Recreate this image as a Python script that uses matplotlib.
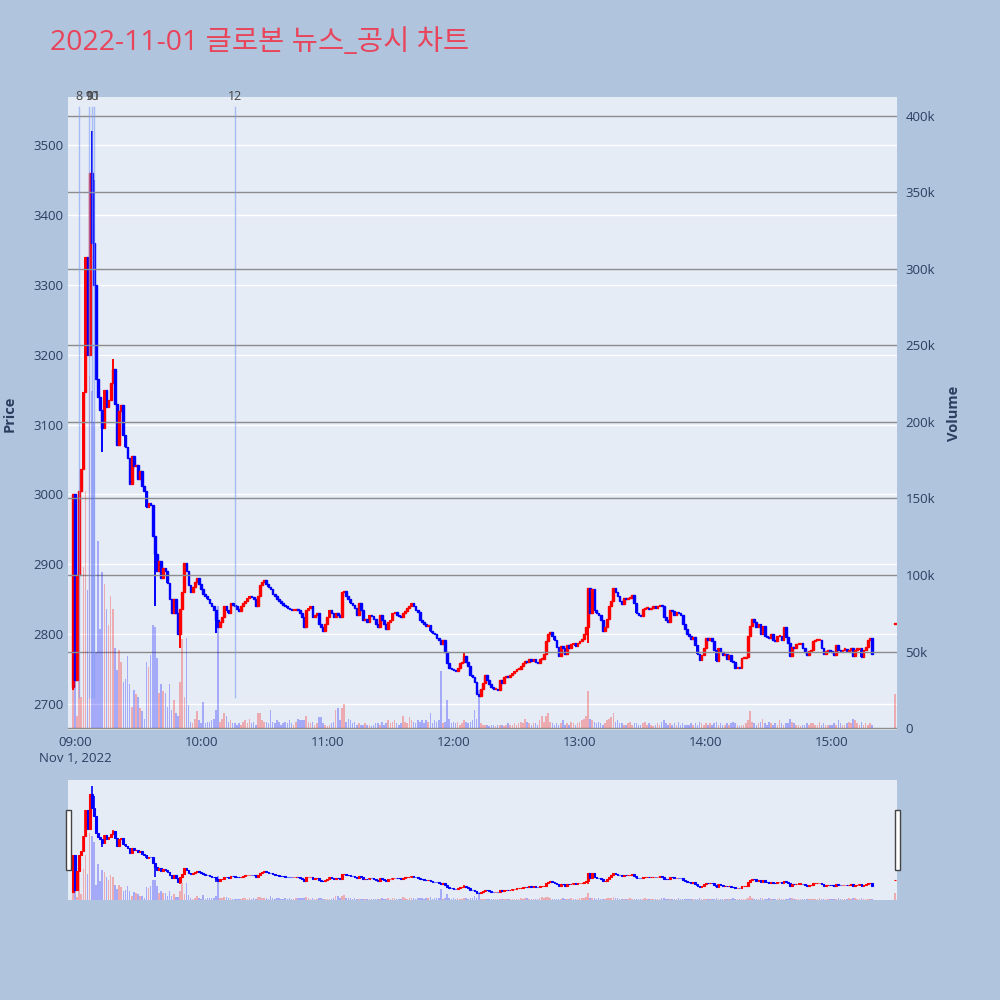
import numpy as np
import pandas as pd
import matplotlib
matplotlib.use('Agg')
import matplotlib.pyplot as plt
import matplotlib.dates as mdates
from matplotlib.patches import Rectangle

# minute closes, 08:59 .. 15:19
closes = [
    3000, 2735, 2885, 3005, 3036, 3147, 3340, 3200, 3460, 3360,
    3300, 3165, 3140, 3121, 3095, 3150, 3125, 3135, 3160, 3180,
    3130, 3070, 3120, 3128, 3085, 3068, 3052, 3015, 3055, 3040,
    3042, 3022, 3033, 3012, 3005, 2982, 2988, 2985, 2940, 2915,
    2890, 2905, 2880, 2895, 2890, 2873, 2850, 2830, 2850, 2830,
    2800, 2836, 2860, 2902, 2890, 2870, 2860, 2868, 2875, 2880,
    2872, 2865, 2858, 2855, 2850, 2845, 2840, 2835, 2820, 2810,
    2818, 2825, 2840, 2835, 2830, 2845, 2842, 2840, 2836, 2833,
    2840, 2845, 2848, 2851, 2855, 2853, 2850, 2840, 2855, 2870,
    2875, 2878, 2872, 2868, 2865, 2858, 2855, 2850, 2847, 2845,
    2842, 2840, 2838, 2836, 2835, 2835, 2835, 2834, 2830, 2825,
    2810, 2835, 2838, 2840, 2825, 2828, 2830, 2815, 2810, 2805,
    2815, 2825, 2835, 2830, 2825, 2830, 2828, 2825, 2860, 2862,
    2855, 2850, 2845, 2842, 2838, 2828, 2845, 2835, 2820, 2822,
    2818, 2828, 2826, 2822, 2815, 2810, 2828, 2820, 2815, 2808,
    2818, 2820, 2830, 2832, 2828, 2826, 2825, 2830, 2833, 2838,
    2840, 2844, 2840, 2835, 2832, 2820, 2818, 2815, 2812, 2813,
    2805, 2802, 2800, 2795, 2792, 2786, 2792, 2775, 2758, 2752,
    2750, 2748, 2747, 2752, 2758, 2760, 2768, 2760, 2755, 2742,
    2738, 2732, 2715, 2712, 2722, 2730, 2742, 2735, 2728, 2725,
    2722, 2722, 2720, 2735, 2730, 2738, 2740, 2738, 2742, 2745,
    2747, 2750, 2750, 2754, 2758, 2762, 2760, 2765, 2762, 2765,
    2760, 2758, 2765, 2765, 2772, 2790, 2800, 2803, 2798, 2792,
    2782, 2768, 2783, 2780, 2772, 2785, 2780, 2786, 2788, 2783,
    2788, 2790, 2793, 2800, 2810, 2866, 2830, 2865, 2835, 2830,
    2828, 2820, 2805, 2810, 2822, 2840, 2848, 2866, 2860, 2855,
    2848, 2843, 2852, 2850, 2851, 2852, 2856, 2845, 2830, 2828,
    2826, 2836, 2838, 2838, 2836, 2838, 2840, 2838, 2840, 2842,
    2840, 2825, 2820, 2818, 2835, 2833, 2828, 2832, 2830, 2828,
    2815, 2808, 2800, 2798, 2793, 2796, 2785, 2772, 2763, 2770,
    2780, 2794, 2792, 2794, 2790, 2778, 2762, 2780, 2775, 2770,
    2772, 2765, 2770, 2762, 2760, 2752, 2752, 2751, 2766, 2766,
    2767, 2798, 2812, 2822, 2818, 2810, 2815, 2800, 2812, 2798,
    2796, 2794, 2800, 2792, 2790, 2797, 2798, 2792, 2810, 2796,
    2788, 2768, 2782, 2780, 2786, 2786, 2787, 2780, 2774, 2770,
    2776, 2778, 2790, 2791, 2791, 2791, 2780, 2772, 2776, 2778,
    2776, 2774, 2770, 2784, 2778, 2776, 2778, 2779, 2776, 2778,
    2780, 2768, 2778, 2779, 2780, 2767, 2778, 2782, 2792, 2794,
    2772,
]
first_open = 2725
wick_high = {9: 3520, 10: 3450, 19: 3194, 186: 2775}
wick_low = {0: 2720, 14: 3060, 39: 2840, 51: 2780, 68: 2801, 245: 2787}

# volume in thousands per minute
volume_k = [
    25, 35, 8, 150, 20, 105, 155, 90, 230, 220,
    200, 50, 122, 65, 102, 94, 78, 67, 86, 78,
    52, 38, 51, 43, 30, 32, 47, 29, 14, 25,
    22, 20, 13, 11, 6, 43, 40, 48, 67, 66,
    46, 23, 29, 24, 23, 14, 29, 12, 18, 10,
    8, 30, 58, 20, 59, 15, 4, 3, 6, 11,
    5, 3, 17, 3, 4, 4, 5, 6, 12, 80,
    4, 6, 10, 8, 4, 5, 3, 3, 2, 3,
    2, 4, 5, 3, 6, 3, 4, 2, 10, 10,
    5, 4, 4, 3, 12, 4, 3, 5, 4, 2,
    3, 4, 3, 5, 3, 2, 4, 6, 5, 5,
    5, 8, 4, 3, 4, 2, 3, 7, 7, 3,
    2, 1, 2, 3, 4, 12, 13, 5, 13, 16,
    4, 6, 5, 3, 4, 2, 3, 2, 2, 3,
    2, 2, 1, 2, 3, 3, 2, 4, 2, 3,
    5, 3, 4, 5, 3, 2, 3, 8, 4, 3,
    7, 5, 4, 3, 5, 4, 5, 3, 5, 4,
    10, 3, 5, 4, 5, 37, 3, 4, 18, 6,
    3, 4, 3, 4, 2, 3, 5, 4, 3, 4,
    5, 12, 6, 25, 3, 2, 2, 2, 1, 2,
    2, 1, 2, 2, 2, 1, 2, 3, 2, 2,
    3, 2, 3, 4, 3, 6, 4, 3, 2, 3,
    3, 2, 5, 8, 4, 8, 10, 4, 3, 2,
    3, 2, 3, 5, 2, 3, 2, 4, 3, 2,
    3, 4, 5, 6, 8, 24, 6, 5, 4, 3,
    4, 3, 2, 3, 5, 6, 7, 10, 4, 5,
    3, 3, 2, 2, 3, 4, 2, 3, 3, 2,
    2, 3, 4, 2, 3, 2, 1, 2, 3, 2,
    4, 5, 3, 2, 3, 2, 3, 2, 4, 2,
    3, 2, 2, 2, 3, 2, 3, 2, 4, 3,
    2, 3, 2, 3, 2, 3, 4, 2, 3, 2,
    2, 3, 2, 3, 4, 3, 2, 1, 2, 2,
    3, 5, 11, 4, 3, 2, 3, 4, 6, 3,
    2, 4, 3, 2, 3, 2, 5, 3, 2, 3,
    3, 6, 4, 3, 2, 2, 1, 2, 2, 3,
    2, 3, 3, 2, 2, 4, 2, 3, 2, 2,
    2, 2, 3, 2, 5, 3, 2, 2, 3, 4,
    3, 6, 5, 3, 2, 4, 2, 3, 2, 3,
    2,
]

# closing auction
auction_time = '2022-11-01 15:30'
auction_price = 2815
auction_volume_k = 22

news_labels = ['8', '9', '10', '11', '12']
news_times = ['2022-11-01 09:02', '2022-11-01 09:06:30', '2022-11-01 09:08',
              '2022-11-01 09:09', '2022-11-01 10:16']

plt.rcParams['font.family'] = ['Open Sans', 'Noto Sans CJK KR', 'DejaVu Sans']

BG = '#b0c4de'
PLOT_BG = '#e5ecf6'
TXT = '#2a3f5f'
UP = '#ff0000'
DOWN = '#0000ff'

times = pd.date_range('2022-11-01 08:59', periods=len(closes), freq='min')
x = mdates.date2num(times)
c = np.array(closes, dtype=float)
o = np.array([first_open] + closes[:-1], dtype=float)
h = np.maximum(o, c)
l = np.minimum(o, c)
for k, v in wick_high.items():
    h[k] = max(h[k], v)
for k, v in wick_low.items():
    l[k] = min(l[k], v)
colors = [UP if cc >= oo else DOWN for oo, cc in zip(o, c)]
vol = np.array(volume_k) * 1000.0

xa = mdates.date2num(pd.Timestamp(auction_time))
minute = 1 / 1440

x_left = mdates.date2num(pd.Timestamp('2022-11-01 08:56:42'))
x_right = mdates.date2num(pd.Timestamp('2022-11-01 15:30:54'))
p_lim = (2662.8, 3568.7)
v_lim = (-1300, 412400)


def draw_candles(axp, axv, lw_wick, lw_edge):
    body_h = np.maximum(np.abs(c - o), 1.5)
    axp.vlines(x, l, h, colors=colors, linewidth=lw_wick, zorder=2)
    axp.bar(x, body_h, bottom=np.minimum(o, c), width=minute * 0.8,
            color=colors, edgecolor=colors, linewidth=lw_edge, zorder=3)
    axp.bar([xa], [1.5], bottom=[auction_price], width=minute * 0.8,
            color=UP, edgecolor=UP, linewidth=lw_edge, zorder=3)
    axv.bar(x, vol, width=minute * 0.75, color=colors, alpha=0.28,
            linewidth=0, zorder=2)
    axv.bar([xa], [auction_volume_k * 1000], width=minute * 0.75,
            color=UP, alpha=0.28, linewidth=0, zorder=2)


fig = plt.figure(figsize=(10, 10), dpi=100, facecolor=BG)

# main panel
ax = fig.add_axes([0.068, 0.27, 0.829, 0.633])
ax.set_facecolor(PLOT_BG)
axv = ax.twinx()
axv.patch.set_visible(False)
draw_candles(ax, axv, 1.4, 1.0)

ax.set_xlim(x_left, x_right)
ax.set_ylim(*p_lim)
axv.set_ylim(*v_lim)

ax.set_yticks(np.arange(2700, 3501, 100))
ax.grid(axis='y', color='white', linewidth=1.0, zorder=0)
ax.set_axisbelow(True)
axv.set_yticks(np.arange(0, 400001, 50000))
axv.set_yticklabels(['0'] + [f'{v}k' for v in range(50, 401, 50)])
axv.grid(axis='y', color='#8c8c8c', linewidth=1.0, zorder=1)
ax.xaxis.grid(False)

tick_times = pd.date_range('2022-11-01 09:00', '2022-11-01 15:00', freq='h')
ax.set_xticks(mdates.date2num(tick_times))
ax.set_xticklabels(['09:00\nNov 1, 2022'] + [t.strftime('%H:%M') for t in tick_times[1:]])

for a in (ax, axv):
    for s in a.spines.values():
        s.set_visible(False)
    a.tick_params(length=0, labelsize=9.5, labelcolor=TXT)
ax.tick_params(axis='y', pad=3)
ax.tick_params(axis='x', pad=4)
axv.tick_params(axis='y', pad=6)
for lab in ax.get_xticklabels():
    lab.set_linespacing(1.3)

ax.set_ylabel('Price', color=TXT, fontsize=10.5, fontweight='bold')
axv.set_ylabel('Volume', color=TXT, fontsize=10.5, fontweight='bold')
ax.yaxis.set_label_coords(-0.062, 0.5)
axv.yaxis.set_label_coords(1.060, 0.5)

# news markers
for lab, t in zip(news_labels, news_times):
    xn = mdates.date2num(pd.Timestamp(t))
    axv.axvline(xn, ymin=0.052, ymax=0.984, color='#7f9cf5', alpha=0.6,
                linewidth=1.0, zorder=4)
    axv.text(xn, 1.0, lab, transform=axv.get_xaxis_transform(), ha='center',
             va='center', fontsize=9, color='#444444')

# range slider panel
axs = fig.add_axes([0.068, 0.10, 0.829, 0.12])
axs.set_facecolor(PLOT_BG)
axsv = axs.twinx()
axsv.patch.set_visible(False)
draw_candles(axs, axsv, 1.2, 0.8)
axs.set_xlim(x_left, x_right)
axs.set_ylim(*p_lim)
axsv.set_ylim(*v_lim)
for a in (axs, axsv):
    a.set_xticks([])
    a.set_yticks([])
    for s in a.spines.values():
        s.set_visible(False)

for hx in (0.066, 0.895):
    fig.patches.append(Rectangle((hx, 0.13), 0.005, 0.06, transform=fig.transFigure,
                                 facecolor='white', edgecolor='#444444',
                                 linewidth=1.0))

fig.text(0.05, 0.957, '2022-11-01 글로본 뉴스_공시 차트', fontsize=20.5,
         color='#e8455b', ha='left', va='center',
         family=['Open Sans', 'Noto Sans CJK KR', 'DejaVu Sans'])

fig.savefig('out.png', dpi=100, facecolor=BG)
